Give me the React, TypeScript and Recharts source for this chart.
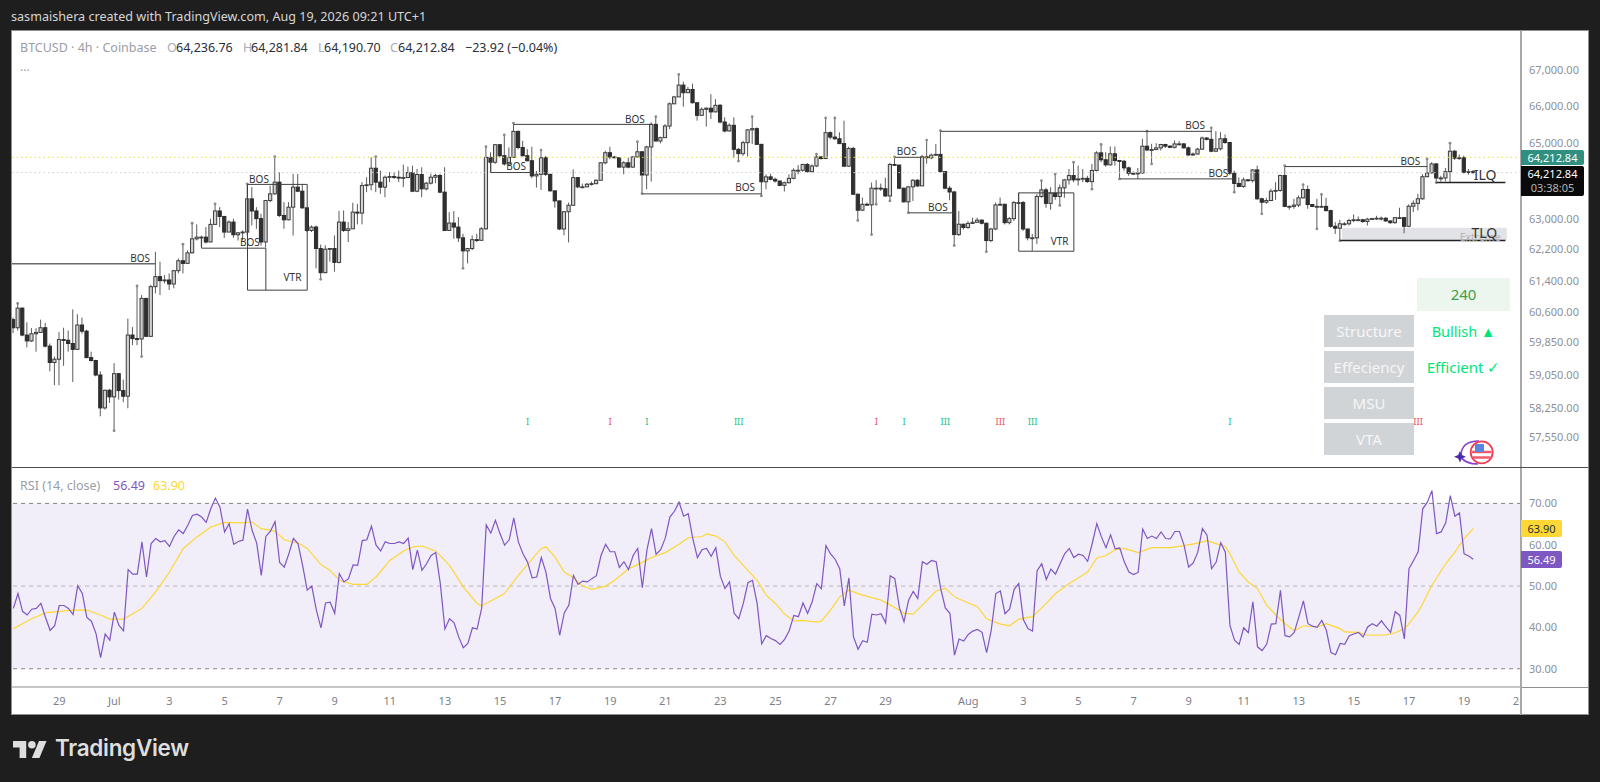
import {
  ComposedChart,
  Bar,
  Line,
  XAxis,
  YAxis,
  ReferenceLine,
  ReferenceArea,
  ReferenceDot,
} from 'recharts'

// ── Price data, one value per 4h candle ──────────────────────────────────────

const firstOpen = 60417

const closes = [
  60214, 60706, 60032, 59886, 60064, 60097, 60214, 59757, 59353, 59434,
  59919, 59903, 59822, 59677, 60282, 60129, 59474, 59402, 59046, 58246,
  58674, 58513, 59079, 58666, 58529, 60032, 59943, 59935, 60951, 60000,
  61248, 61503, 61401, 61418, 61316, 61655, 61910, 61842, 62113, 62475,
  62518, 62518, 62393, 62850, 63200, 63057, 62650, 62910, 62580, 62630,
  62650, 63518, 63200, 63000, 62393, 63474, 63650, 63960, 63083, 62970,
  63300, 63827, 63720, 63283, 62692, 62780, 62224, 61605, 62207, 62224,
  61867, 62910, 62692, 62735, 63170, 63145, 63870, 63890, 64330, 63960,
  63827, 64090, 64108, 64090, 64082, 64082, 64214, 63720, 64162, 63783,
  63933, 64090, 64135, 63695, 62692, 62884, 62780, 62500, 62164, 62224,
  62453, 62436, 62735, 64620, 64490, 64960, 64665, 64445, 64620, 65320,
  64885, 64665, 64530, 64125, 64168, 64610, 64168, 63730, 63465, 62730,
  63180, 63350, 64080, 63835, 63835, 63905, 63920, 64010, 64475, 64745,
  64630, 64610, 64360, 64475, 64360, 64630, 64770, 64150, 64900, 65510,
  65060, 65150, 65465, 66070, 66260, 66585, 66375, 66465, 66100, 65755,
  65920, 65950, 65850, 66030, 65575, 65330, 65485, 64835, 64720, 65015,
  65360, 65395, 64970, 63970, 64100, 64035, 63990, 63875, 63945, 64060,
  64275, 64275, 64430, 64240, 64390, 64630, 64590, 65285, 65165, 65120,
  64990, 64385, 64860, 63640, 63220, 63375, 63360, 63800, 63800, 63785,
  63595, 64430, 64415, 63800, 63440, 63835, 64010, 63860, 64635, 64610,
  64680, 64700, 64240, 63800, 63700, 62585, 62855, 62770, 62875, 62905,
  62960, 62880, 62430, 62730, 63360, 63375, 62895, 63000, 63420, 63420,
  62730, 62500, 62500, 63580, 63755, 63400, 63670, 63580, 63810, 64020,
  64135, 64020, 64045, 64060, 63975, 64270, 64740, 64555, 64420, 64715,
  64535, 64515, 64340, 64195, 64180, 64205, 64920, 64820, 64830, 64875,
  64965, 64920, 64890, 64982, 64982, 64875, 64685, 64710, 64840, 65140,
  65105, 64785, 64850, 65120, 65020, 64195, 63925, 63845, 64020, 64000,
  64285, 63520, 63430, 63475, 63720, 63740, 64135, 63320, 63320, 63355,
  63545, 63765, 63370, 63320, 63320, 63320, 63210, 62800, 62750, 62865,
  62865, 62950, 62970, 62970, 62925, 62985, 63000, 63010, 63010, 62940,
  62895, 63025, 63025, 62800, 63325, 63400, 63520, 64105, 64205, 64445,
  64070, 64070, 64240, 64785, 64600, 64610, 64220, 64236.76, 64212.84,
]

const highs = [
  60468, 60824, 60723, 60350, 60205, 60205, 60417, 60333, 59822, 59500,
  60105, 60214, 60145, 60672, 60553, 60468, 60163, 59620, 59418, 59135,
  58691, 58707, 59337, 59095, 58933, 60443, 60231, 61265, 61036, 60951,
  61291, 62139, 61884, 61545, 61588, 61672, 61969, 62334, 62181, 62880,
  62850, 62560, 62780, 62997, 63387, 63300, 63057, 62953, 63000, 62650,
  62692, 63915, 63827, 63300, 63127, 63490, 63870, 64640, 64220, 63430,
  63430, 64180, 64180, 63915, 63283, 62823, 62823, 62325, 62308, 62240,
  62563, 63200, 63215, 62910, 63413, 63387, 63960, 64090, 64620, 64640,
  64268, 64135, 64223, 64223, 64268, 64425, 64372, 64400, 64311, 64355,
  63960, 64180, 64180, 64180, 64355, 63170, 63200, 63040, 62605, 62240,
  62563, 62605, 62780, 64905, 64755, 64980, 64980, 65225, 64885, 65545,
  65340, 65065, 64840, 64905, 64256, 64815, 64660, 64168, 63728, 63464,
  63200, 63420, 64300, 64080, 63922, 63940, 63975, 64036, 64494, 64796,
  64905, 64660, 64633, 64520, 64615, 64660, 65040, 64780, 64932, 65566,
  65720, 65177, 65520, 66109, 66290, 66878, 66679, 66534, 66625, 66109,
  65973, 65973, 66335, 66199, 66064, 65702, 65539, 65702, 64869, 65068,
  65385, 65720, 65430, 64960, 64168, 64186, 64080, 63975, 63975, 64168,
  64326, 64414, 64450, 64467, 64432, 64706, 64660, 65683, 65321, 65683,
  65294, 65611, 64905, 64905, 63658, 63552, 63420, 63948, 64010, 63922,
  64080, 64476, 64633, 64414, 63816, 63860, 64036, 64036, 64688, 65086,
  64724, 64978, 65340, 64256, 63860, 63728, 63200, 62865, 62936, 63024,
  63024, 62980, 62892, 62760, 63420, 63552, 63394, 63042, 63464, 63684,
  63464, 62734, 62601, 63650, 64000, 63809, 63826, 64174, 63896, 64045,
  64309, 64489, 64399, 64309, 64129, 64444, 64786, 64966, 64759, 64912,
  64912, 64552, 64552, 64372, 64246, 64336, 65119, 65326, 64984, 65002,
  64984, 64984, 64948, 65074, 65056, 65002, 64912, 64750, 64876, 65182,
  65164, 65416, 65326, 65299, 65236, 65029, 64264, 64084, 64084, 64045,
  64300, 64399, 63546, 63546, 63783, 63958, 64156, 64399, 63345, 63520,
  63608, 63896, 63870, 63372, 63520, 63634, 63546, 63232, 62908, 62969,
  62908, 62995, 63109, 63057, 62995, 63022, 63022, 63074, 63057, 63039,
  62951, 63039, 63284, 63039, 63372, 63477, 63650, 64174, 64579, 64489,
  64462, 64129, 64336, 65002, 64822, 64696, 64669, 64309, 64281.84,
]

const lows = [
  60080, 60145, 60000, 59725, 59862, 59620, 60097, 59725, 59135, 58796,
  58796, 59272, 59620, 58876, 59660, 60064, 59458, 59377, 59014, 58044,
  58206, 58367, 57697, 58448, 58383, 58238, 59781, 59781, 59499, 60000,
  59983, 61079, 61036, 61333, 61164, 61206, 61588, 61588, 61842, 62096,
  62431, 62266, 62350, 62393, 62850, 62780, 62500, 62650, 62500, 62431,
  62431, 62560, 62823, 62735, 62300, 62250, 63430, 63630, 63040, 62735,
  62953, 62560, 63695, 63257, 62650, 62650, 61715, 61435, 61588, 61884,
  61630, 61842, 62650, 62393, 62735, 62850, 62850, 63695, 63740, 63695,
  63650, 63562, 63960, 64047, 63960, 63827, 64065, 63695, 63695, 63562,
  63740, 63898, 63933, 63670, 62692, 62692, 62475, 62393, 61715, 61842,
  62181, 62393, 62436, 62710, 64223, 64445, 64620, 64400, 64400, 64620,
  64840, 64640, 64510, 64062, 63816, 63754, 64124, 63710, 63288, 62698,
  62566, 62382, 63350, 63798, 63798, 63869, 63869, 63904, 64010, 64432,
  64570, 64597, 64344, 64168, 64326, 64344, 64615, 63658, 63772, 63975,
  65050, 64995, 65140, 65385, 66064, 66262, 65991, 66380, 66082, 65611,
  65747, 65448, 65656, 65837, 65539, 65294, 65321, 64615, 64520, 64660,
  64643, 64978, 64960, 63596, 63772, 64010, 63948, 63851, 63710, 63922,
  64036, 64168, 64238, 64212, 64221, 64362, 64561, 64570, 65104, 65095,
  64978, 64362, 64362, 63622, 62954, 63200, 63332, 62584, 63376, 63728,
  63570, 63464, 64388, 63772, 63420, 63156, 63464, 63834, 63860, 64450,
  64570, 64660, 64212, 63772, 63482, 62302, 62548, 62716, 62734, 62865,
  62900, 62848, 62144, 62390, 62698, 63332, 62848, 62848, 62936, 63394,
  62680, 62434, 62164, 62339, 63546, 63284, 63232, 63494, 63345, 63546,
  63896, 63958, 63870, 63958, 63940, 63774, 64246, 64489, 64372, 64399,
  64399, 64045, 64264, 64129, 64156, 64045, 64174, 64786, 64444, 64822,
  64804, 64876, 64867, 64858, 64939, 64858, 64660, 64660, 64696, 64822,
  65074, 64759, 64759, 64804, 64984, 64156, 63695, 63826, 63809, 63975,
  63949, 63494, 63125, 63389, 63459, 63494, 63704, 63301, 63232, 63258,
  63301, 63529, 63258, 63301, 62733, 63284, 63188, 62759, 62601, 62426,
  62820, 62820, 62908, 62934, 62890, 62820, 62969, 62969, 62951, 62916,
  62864, 62864, 62995, 62619, 62776, 63170, 63214, 63494, 64089, 64192,
  63949, 63975, 63984, 63958, 64552, 64552, 64192, 64156, 64190.7,
]

// candles whose wick tip carries a small grey swing dot
const swingHighs = [1, 27, 37, 39, 44, 51, 57, 79, 103, 107, 109, 115, 136, 140, 145, 161, 175, 177, 179, 192, 199, 202, 224, 227, 231, 237, 247, 261, 277, 281, 285, 308, 313]
const swingLows = [22, 28, 67, 98, 137, 158, 163, 184, 187, 188, 191, 195, 205, 212, 228, 235, 241, 248, 266, 272, 284, 289, 310]

// ── RSI pane ─────────────────────────────────────────────────────────────────

const rsiValues = [
  44.6, 48.2, 43.9, 43.0, 44.4, 44.6, 45.8, 42.4, 39.3, 40.4,
  45.3, 45.3, 44.6, 43.1, 50.1, 48.3, 42.4, 41.5, 38.5, 32.7,
  38.4, 36.9, 43.7, 40.5, 39.2, 54.0, 52.9, 52.9, 60.7, 52.2,
  60.3, 61.5, 60.7, 61.0, 59.6, 62.0, 63.6, 62.7, 64.7, 67.1,
  67.4, 66.7, 65.4, 68.7, 71.3, 69.1, 63.1, 65.1, 60.1, 60.8,
  61.1, 68.6, 63.5, 60.4, 52.6, 62.0, 63.3, 65.6, 55.7, 54.6,
  57.8, 61.5, 60.3, 55.0, 49.0, 50.0, 44.2, 39.9, 45.9, 46.1,
  43.4, 53.0, 51.0, 51.8, 55.1, 55.0, 61.0, 61.2, 64.5, 59.9,
  58.5, 60.7, 60.3, 60.3, 60.7, 60.3, 61.6, 54.0, 58.7, 53.8,
  55.4, 57.4, 58.1, 50.6, 39.6, 42.1, 41.1, 37.7, 35.1, 36.1,
  39.9, 39.6, 44.6, 64.8, 62.8, 65.9, 62.7, 59.9, 61.2, 66.5,
  60.7, 57.8, 55.8, 52.0, 52.2, 56.9, 53.4, 47.0, 44.6, 38.1,
  43.5, 45.4, 52.6, 50.4, 51.2, 51.0, 51.8, 52.5, 57.4, 60.1,
  58.3, 58.3, 54.5, 55.9, 54.0, 57.4, 59.1, 49.6, 58.7, 63.9,
  57.7, 58.8, 61.6, 66.7, 68.1, 70.3, 66.9, 67.5, 61.5, 56.9,
  58.8, 59.1, 57.2, 59.3, 52.4, 49.4, 51.0, 43.4, 42.1, 45.8,
  50.8, 51.4, 45.8, 36.0, 38.0, 37.3, 36.8, 35.9, 37.1, 39.2,
  42.9, 42.6, 45.9, 43.4, 46.2, 50.6, 49.4, 59.8, 57.8, 56.5,
  54.2, 45.2, 52.0, 37.7, 34.7, 36.8, 36.4, 43.2, 43.0, 43.3,
  41.1, 52.5, 51.8, 44.8, 41.4, 46.6, 48.7, 47.0, 55.9, 55.3,
  56.2, 55.9, 49.4, 44.7, 43.4, 33.3, 37.2, 36.7, 38.3, 39.1,
  39.5, 38.8, 33.9, 39.3, 48.2, 48.8, 43.3, 44.4, 49.2, 50.6,
  41.9, 39.7, 39.1, 53.7, 55.4, 51.6, 54.1, 52.9, 55.4, 57.8,
  59.1, 56.9, 57.7, 57.4, 56.0, 60.3, 65.1, 61.9, 59.3, 62.4,
  59.0, 59.2, 55.8, 53.4, 52.8, 53.3, 63.8, 61.5, 62.1, 61.5,
  63.1, 61.5, 61.4, 63.2, 63.2, 59.9, 54.6, 55.6, 58.2, 63.9,
  62.3, 54.2, 55.8, 60.5, 58.2, 40.5, 36.9, 35.9, 39.9, 38.7,
  46.2, 35.3, 34.4, 35.9, 40.8, 40.9, 49.0, 38.0, 37.7, 38.8,
  42.5, 46.4, 40.9, 40.3, 40.0, 41.7, 39.3, 33.9, 33.4, 36.1,
  35.9, 38.0, 38.4, 38.8, 37.7, 40.1, 40.9, 40.3, 41.6, 40.1,
  38.8, 43.8, 42.9, 37.2, 54.2, 56.2, 58.3, 68.7, 70.3, 73.1,
  62.7, 63.1, 65.3, 71.9, 66.9, 67.7, 57.8, 57.3, 56.49,
]

// yellow RSI average, read at the candles where its bends can be seen
const maIndex = [
  0, 4, 7, 10, 13, 16, 19, 21, 24, 28, 31, 34, 37, 40, 43, 46, 50, 52, 54, 57, 59, 62, 64, 67, 69, 71, 74, 77, 79, 82,
  85, 87, 89, 92, 95, 98, 101, 102, 105, 107, 110, 113, 115, 116, 118, 120, 122, 124, 126, 129, 131, 134, 136, 139, 142, 145, 147, 150, 151, 153,
  155, 157, 159, 162, 164, 166, 168, 170, 172, 175, 176, 178, 180, 182, 185, 187, 189, 192, 194, 196, 198, 201, 203, 205, 207, 210, 212, 215, 217, 219,
  222, 225, 227, 230, 232, 234, 236, 238, 240, 242, 245, 248, 252, 255, 258, 260, 263, 264, 265, 267, 269, 271, 273, 275, 277, 279, 281, 284, 286, 289,
  290, 293, 295, 299, 301, 303, 304, 306, 307, 309, 312, 314, 316, 318,
]
const maValues = [
  39.7, 42.1, 43.5, 43.9, 44.2, 44.2, 43.0, 42.0, 42.0, 44.6, 48.6, 53.4, 59.1, 61.9, 64.3, 65.4, 65.3, 65.5, 63.9, 63.3, 61.2, 60.4, 59.1, 55.2, 53.8, 51.4, 50.4, 50.4, 52.2, 56.2,
  58.5, 59.5, 59.7, 58.5, 55.0, 49.8, 45.8, 45.2, 47.0, 48.2, 52.6, 56.6, 59.1, 59.5, 57.0, 53.4, 52.0, 50.0, 49.2, 50.0, 51.4, 54.2, 55.2, 56.9, 58.1, 60.1, 61.7, 62.0, 62.6, 62.1,
  60.7, 57.4, 55.0, 51.4, 47.8, 45.8, 43.2, 41.6, 41.7, 41.3, 41.5, 44.2, 47.4, 49.0, 47.8, 47.2, 46.6, 44.8, 43.4, 43.2, 45.4, 48.8, 49.5, 47.4, 46.4, 45.0, 42.1, 40.8, 40.4, 42.0,
  42.6, 45.8, 48.2, 50.6, 52.0, 53.4, 56.8, 57.4, 58.8, 59.1, 58.1, 59.3, 59.3, 59.8, 60.4, 61.0, 59.9, 59.6, 57.8, 53.4, 51.0, 49.4, 45.4, 43.0, 40.9, 39.2, 40.4, 40.1, 40.9, 39.7,
  38.9, 38.8, 38.1, 38.2, 38.7, 39.7, 40.9, 43.8, 45.8, 50.2, 55.4, 58.2, 61.5, 63.9,
]

// ── Axes ─────────────────────────────────────────────────────────────────────

const priceTicks = [67000, 66000, 65000, 63000, 62200, 61400, 60600, 59850, 59050, 58250, 57550]
const rsiTicks = [70, 60, 50, 40, 30]
const dateTicks = [10, 22, 34, 46, 58, 70, 82, 94, 106, 118, 130, 142, 154, 166, 178, 190, 208, 220, 232, 244, 256, 268, 280, 292, 304, 316, 328]
const dateLabels = ['29', 'Jul', '3', '5', '7', '9', '11', '13', '15', '17', '19', '21', '23', '25', '27', '29', 'Aug', '3', '5', '7', '9', '11', '13', '15', '17', '19', '21']

// ── Drawn structure: [from candle, to candle, price] ─────────────────────────

const structureLines = [
  [51, 64, 63900],
  [41, 55, 62233],
  [51, 64, 61160],
  [109, 139, 65510],
  [104, 113, 64215],
  [137, 163, 63650],
  [192, 198, 64622],
  [202, 261, 65321],
  [195, 205, 63151],
  [219, 231, 63676],
  [219, 231, 62155],
  [241, 266, 64046],
  [277, 308, 64374],
]
const openingLevel = [-0.3, 31, 61832]
const liquidityLines = [
  [310, 325, 63948],
  [289, 325, 62431],
]
// [candle, price from, price to]
const structureEdges = [
  [51, 63900, 61160],
  [64, 63900, 61160],
  [55, 62233, 61160],
  [41, 62500, 62233],
  [104, 64622, 64215],
  [219, 63676, 62155],
  [231, 63676, 62155],
]
const structureLabels: [string, number, number][] = [
  ['BOS', 27.6, 61993],
  ['BOS', 53.5, 64055],
  ['BOS', 51.5, 62384],
  ['VTR', 60.8, 61483],
  ['BOS', 135.4, 65665],
  ['BOS', 109.5, 64381],
  ['BOS', 159.4, 63843],
  ['BOS', 194.6, 64801],
  ['BOS', 257.4, 65495],
  ['BOS', 201.4, 63298],
  ['VTR', 227.9, 62431],
  ['BOS', 262.5, 64214],
  ['BOS', 304.3, 64533],
]
const markerPrice = 57925
const markers: [string, number, string][] = [
  ['I', 112, 'up'],
  ['I', 130, 'down'],
  ['I', 138, 'up'],
  ['III', 158, 'up'],
  ['I', 188, 'down'],
  ['I', 194, 'up'],
  ['III', 203, 'up'],
  ['III', 215, 'down'],
  ['III', 222, 'up'],
  ['I', 265, 'up'],
  ['III', 306, 'down'],
]

// ── Chart helpers ────────────────────────────────────────────────────────────

const FONT = '"Noto Sans", Roboto, sans-serif'
const INDEX_DOMAIN: [number, number] = [-0.3, 328.4]

const candleRows = closes.map((close, i) => {
  const open = i === 0 ? firstOpen : closes[i - 1]
  const high = Math.max(highs[i], open, close)
  const low = Math.min(lows[i], open, close)
  return { i, open, close, high, low, range: [low, high] }
})

const maByIndex = new Map(maIndex.map((idx, k) => [idx, maValues[k]]))
const rsiRows = rsiValues.map((rsi, i) => ({ i, rsi, ma: maByIndex.get(i) }))

function Candle(props: any) {
  const { x, y, width, height, payload } = props
  const { open, close, high, low, i } = payload
  const cx = x + width / 2
  // the bar spans low..high on the log axis, so body edges follow the same scale
  const span = Math.log(high) - Math.log(low)
  const yOf = (p: number) => y + (height * (Math.log(high) - Math.log(p))) / span
  const top = yOf(Math.max(open, close))
  const bottom = yOf(Math.min(open, close))
  const up = close >= open
  return (
    <g>
      <line x1={cx} x2={cx} y1={y} y2={y + height} stroke="#4a4a4a" strokeWidth={0.9} />
      <rect
        x={cx - 1.6}
        y={top}
        width={3.2}
        height={Math.max(bottom - top, 0.8)}
        fill={up ? '#d2d2d2' : '#303030'}
        stroke={up ? '#3c3c3c' : '#2a2a2a'}
        strokeWidth={1}
      />
      {swingHighs.includes(i) && <circle cx={cx} cy={y} r={1.4} fill="#8a8a8a" />}
      {swingLows.includes(i) && <circle cx={cx} cy={y + height} r={1.4} fill="#8a8a8a" />}
    </g>
  )
}

function chartText(text: string, size: number, fill: string) {
  return (p: any) => (
    <text x={p.cx} y={p.cy} textAnchor="middle" dominantBaseline="central" fontSize={size} fontFamily={FONT} fill={fill}>
      {text}
    </text>
  )
}

function Abs({ x, y, w, h, style, children }: any) {
  return (
    <div style={{ position: 'absolute', left: x, top: y, width: w, height: h, ...style }}>
      {children}
    </div>
  )
}

function Span({ x, y, color, size = 12.5, children }: any) {
  return (
    <span style={{ position: 'absolute', left: x, top: y, color, fontSize: size, lineHeight: '16px', whiteSpace: 'nowrap' }}>
      {children}
    </span>
  )
}

function TableCell({ y, children }: any) {
  return (
    <Abs
      x={1324}
      y={y}
      w={90}
      h={32}
      style={{ background: '#d1d4d7', color: '#f6f6f6', fontSize: 15, textAlign: 'center', lineHeight: '32px' }}
    >
      {children}
    </Abs>
  )
}

function AxisBox({ y, h, bg, color, w = 41, children }: any) {
  return (
    <Abs
      x={1521}
      y={y}
      w={w}
      h={h}
      style={{ background: bg, color, fontSize: 11, textAlign: 'center', lineHeight: `${h}px`, borderRadius: '0 2px 2px 0' }}
    >
      {children}
    </Abs>
  )
}

// ── App ──────────────────────────────────────────────────────────────────────

export default function App() {
  return (
    <div style={{ position: 'absolute', left: 0, top: 0, width: 1600, height: 782, overflow: 'hidden', background: '#1e1e1e', fontFamily: FONT }}>
      <Span x={11} y={9} color="#d6d6d6" size={12.6}>
        sasmaishera created with TradingView.com, Aug 19, 2026 09:21 UTC+1
      </Span>

      <Abs x={11} y={30} w={1578} h={685} style={{ background: '#ffffff', border: '1px solid #8f8f8f', boxSizing: 'border-box' }} />

      {/* price pane */}
      <div style={{ position: 'absolute', left: 12, top: 31 }}>
        <ComposedChart
          width={1576}
          height={436}
          data={candleRows}
          margin={{ top: 0, right: 0, bottom: 0, left: 0 }}
        >
          <XAxis dataKey="i" type="number" domain={INDEX_DOMAIN} allowDataOverflow hide />
          <YAxis
            orientation="right"
            width={67}
            scale="log"
            domain={[56837, 68095]}
            allowDataOverflow
            ticks={priceTicks}
            interval={0}
            tickLine={false}
            tickSize={0}
            tickMargin={8}
            axisLine={{ stroke: '#a8a8a8', strokeWidth: 2 }}
            tick={{ fontSize: 11, fill: '#8d9099', fontFamily: FONT }}
            tickFormatter={(v) => `${Number(v).toLocaleString('en-US')}.00`}
          />
          <ReferenceArea x1={289.4} x2={325.3} y1={62431} y2={62760} fill="#e2e3e6" fillOpacity={1} stroke="none" />
          <ReferenceLine y={64622} stroke="#ecdc45" strokeDasharray="1.5 3" />
          <ReferenceLine y={64212.84} stroke="#cfcfcf" strokeDasharray="1.5 3" />
          <ReferenceLine
            segment={[{ x: openingLevel[0], y: openingLevel[2] }, { x: openingLevel[1], y: openingLevel[2] }]}
            stroke="#6a6a6a"
            strokeWidth={1.5}
          />
          {structureLines.map(([a, b, p], k) => (
            <ReferenceLine key={`s${k}`} segment={[{ x: a, y: p }, { x: b, y: p }]} stroke="#3f3f3f" strokeWidth={1} />
          ))}
          {structureEdges.map(([i, p1, p2], k) => (
            <ReferenceLine key={`e${k}`} segment={[{ x: i, y: p1 }, { x: i, y: p2 }]} stroke="#3f3f3f" strokeWidth={1} />
          ))}
          <Bar dataKey="range" barSize={4} shape={Candle} isAnimationActive={false} />
          {liquidityLines.map(([a, b, p], k) => (
            <ReferenceLine key={`l${k}`} segment={[{ x: a, y: p }, { x: b, y: p }]} stroke="#222222" strokeWidth={1.5} />
          ))}
          {structureLabels.map(([t, i, p], k) => (
            <ReferenceDot key={`t${k}`} x={i} y={p} r={0} shape={chartText(t, 10, '#333333')} />
          ))}
          <ReferenceDot x={319.5} y={62517} r={0} shape={chartText('Extreme', 10.5, '#b2b4b8')} />
          <ReferenceDot x={320.6} y={64160} r={0} shape={chartText('ILQ', 14, '#333333')} />
          <ReferenceDot x={320.4} y={62647} r={0} shape={chartText('TLQ', 14, '#333333')} />
          {markers.map(([t, i, kind], k) => (
            <ReferenceDot key={`m${k}`} x={i} y={markerPrice} r={0} shape={chartText(t, 9.5, kind === 'up' ? '#22c58b' : '#f0515a')} />
          ))}
        </ComposedChart>
      </div>

      {/* RSI pane and date axis */}
      <div style={{ position: 'absolute', left: 12, top: 468 }}>
        <ComposedChart
          width={1576}
          height={246}
          data={rsiRows}
          margin={{ top: 0, right: 0, bottom: 0, left: 0 }}
        >
          <XAxis
            dataKey="i"
            type="number"
            domain={INDEX_DOMAIN}
            allowDataOverflow
            ticks={dateTicks}
            interval={0}
            height={27}
            tickLine={false}
            tickSize={0}
            tickMargin={10}
            axisLine={{ stroke: '#8f8f8f' }}
            tick={{ fontSize: 11, fill: '#7d808a', fontFamily: FONT }}
            tickFormatter={(v) => dateLabels[dateTicks.indexOf(Number(v))]}
          />
          <YAxis
            orientation="right"
            width={67}
            domain={[25.58, 78.57]}
            allowDataOverflow
            ticks={rsiTicks}
            interval={0}
            tickLine={false}
            tickSize={0}
            tickMargin={8}
            axisLine={{ stroke: '#a8a8a8', strokeWidth: 2 }}
            tick={{ fontSize: 11, fill: '#8d9099', fontFamily: FONT }}
            tickFormatter={(v) => `${Number(v).toFixed(2)}`}
          />
          <ReferenceArea y1={30} y2={70} fill="#f1edf9" fillOpacity={1} stroke="none" />
          <ReferenceLine y={70} stroke="#858585" strokeDasharray="4 4" />
          <ReferenceLine y={50} stroke="#b9b6bf" strokeDasharray="4 4" />
          <ReferenceLine y={30} stroke="#858585" strokeDasharray="4 4" />
          <Line dataKey="ma" stroke="#fdd835" strokeWidth={1.2} dot={false} connectNulls isAnimationActive={false} />
          <Line dataKey="rsi" stroke="#7e57c2" strokeWidth={1.2} dot={false} isAnimationActive={false} />
        </ComposedChart>
      </div>

      {/* separators and the cover over the clipped last date */}
      <Abs x={12} y={467} w={1576} h={1} style={{ background: '#4c4c4c' }} />
      <Abs x={1520} y={688} w={68} h={26} style={{ background: '#ffffff' }} />
      <Abs x={1520} y={687} w={68} h={1} style={{ background: '#8f8f8f' }} />
      <Abs x={1520} y={687} w={2} h={28} style={{ background: '#a8a8a8' }} />

      {/* legends */}
      <Span x={20} y={40} color="#9a9da6">BTCUSD · 4h · Coinbase</Span>
      <Span x={167} y={40} color="#a9acb4">O</Span>
      <Span x={176} y={40} color="#2a2e39">64,236.76</Span>
      <Span x={243} y={40} color="#a9acb4">H</Span>
      <Span x={251} y={40} color="#2a2e39">64,281.84</Span>
      <Span x={318} y={40} color="#a9acb4">L</Span>
      <Span x={324} y={40} color="#2a2e39">64,190.70</Span>
      <Span x={390} y={40} color="#a9acb4">C</Span>
      <Span x={398} y={40} color="#2a2e39">64,212.84</Span>
      <Span x={465} y={40} color="#2a2e39">−23.92 (−0.04%)</Span>
      <Span x={20} y={59} color="#9a9da6" size={12}>...</Span>
      <Span x={20} y={478} color="#9a9da6">RSI (14, close)</Span>
      <Span x={113} y={478} color="#7e57c2">56.49</Span>
      <Span x={153} y={478} color="#fdd835">63.90</Span>

      {/* status table */}
      <Abs x={1417} y={278} w={93} h={33} style={{ background: '#ecf6ee', color: '#43a047', fontSize: 15, textAlign: 'center', lineHeight: '33px' }}>
        240
      </Abs>
      <TableCell y={315}>Structure</TableCell>
      <TableCell y={351}>Effeciency</TableCell>
      <TableCell y={387}>MSU</TableCell>
      <TableCell y={423}>VTA</TableCell>
      <Abs x={1417} y={315} w={93} h={32} style={{ color: '#00e676', fontSize: 14.5, textAlign: 'center', lineHeight: '32px' }}>
        Bullish ▲
      </Abs>
      <Abs x={1412} y={351} w={103} h={32} style={{ color: '#00e676', fontSize: 15, textAlign: 'center', lineHeight: '32px' }}>
        Efficient ✓
      </Abs>

      {/* badge at the pane's lower right */}
      <svg style={{ position: 'absolute', left: 1452, top: 436, width: 46, height: 31 }} viewBox="0 0 46 31">
        <path d="M9 20 C9 9 17 5 27 5" fill="none" stroke="#8a3ec9" strokeWidth={1.6} />
        <path d="M9 21 C12 26 18 28 26 28" fill="none" stroke="#8a3ec9" strokeWidth={1.6} />
        <path d="M8 15 L9.8 19 L14 20.7 L9.8 22.4 L8 26.4 L6.2 22.4 L2 20.7 L6.2 19 Z" fill="#4b2aa8" />
        <circle cx={29.7} cy={16.3} r={11} fill="#ffffff" stroke="#ef3d55" strokeWidth={1.8} />
        <path d="M20 16 H39.5 M21 21.5 H38.5" stroke="#ef5b6e" strokeWidth={2.4} />
        <rect x={23} y={8} width={9} height={8} fill="#5b86e0" />
      </svg>

      {/* price and RSI value tags */}
      <AxisBox y={150} h={15} w={63} bg="#2f9082" color="#ffffff">64,212.84</AxisBox>
      <Abs x={1521} y={166} w={63} h={30} style={{ background: '#0a0a0a', borderRadius: '0 2px 2px 0', textAlign: 'center', fontSize: 11, lineHeight: '14px', paddingTop: 1, boxSizing: 'border-box' }}>
        <div style={{ color: '#ffffff' }}>64,212.84</div>
        <div style={{ color: '#b6b6b6' }}>03:38:05</div>
      </Abs>
      <AxisBox y={520} h={17} bg="#fdd835" color="#2a2e39">63.90</AxisBox>
      <AxisBox y={551} h={17} bg="#7e57c2" color="#ffffff">56.49</AxisBox>

      {/* footer logo */}
      <svg style={{ position: 'absolute', left: 13, top: 737, width: 34, height: 21 }} viewBox="0 0 36 22">
        <path d="M14 22H7V11H0V4h14v18zM28 22h-8l7.5-18h8L28 22z" fill="#dedede" />
        <circle cx={20} cy={8} r={4} fill="#dedede" />
      </svg>
      <span style={{ position: 'absolute', left: 55, top: 733, color: '#dedede', fontSize: 22.5, lineHeight: '30px', fontWeight: 600, fontFamily: 'Inter, sans-serif', letterSpacing: -0.3 }}>
        TradingView
      </span>
    </div>
  )
}
